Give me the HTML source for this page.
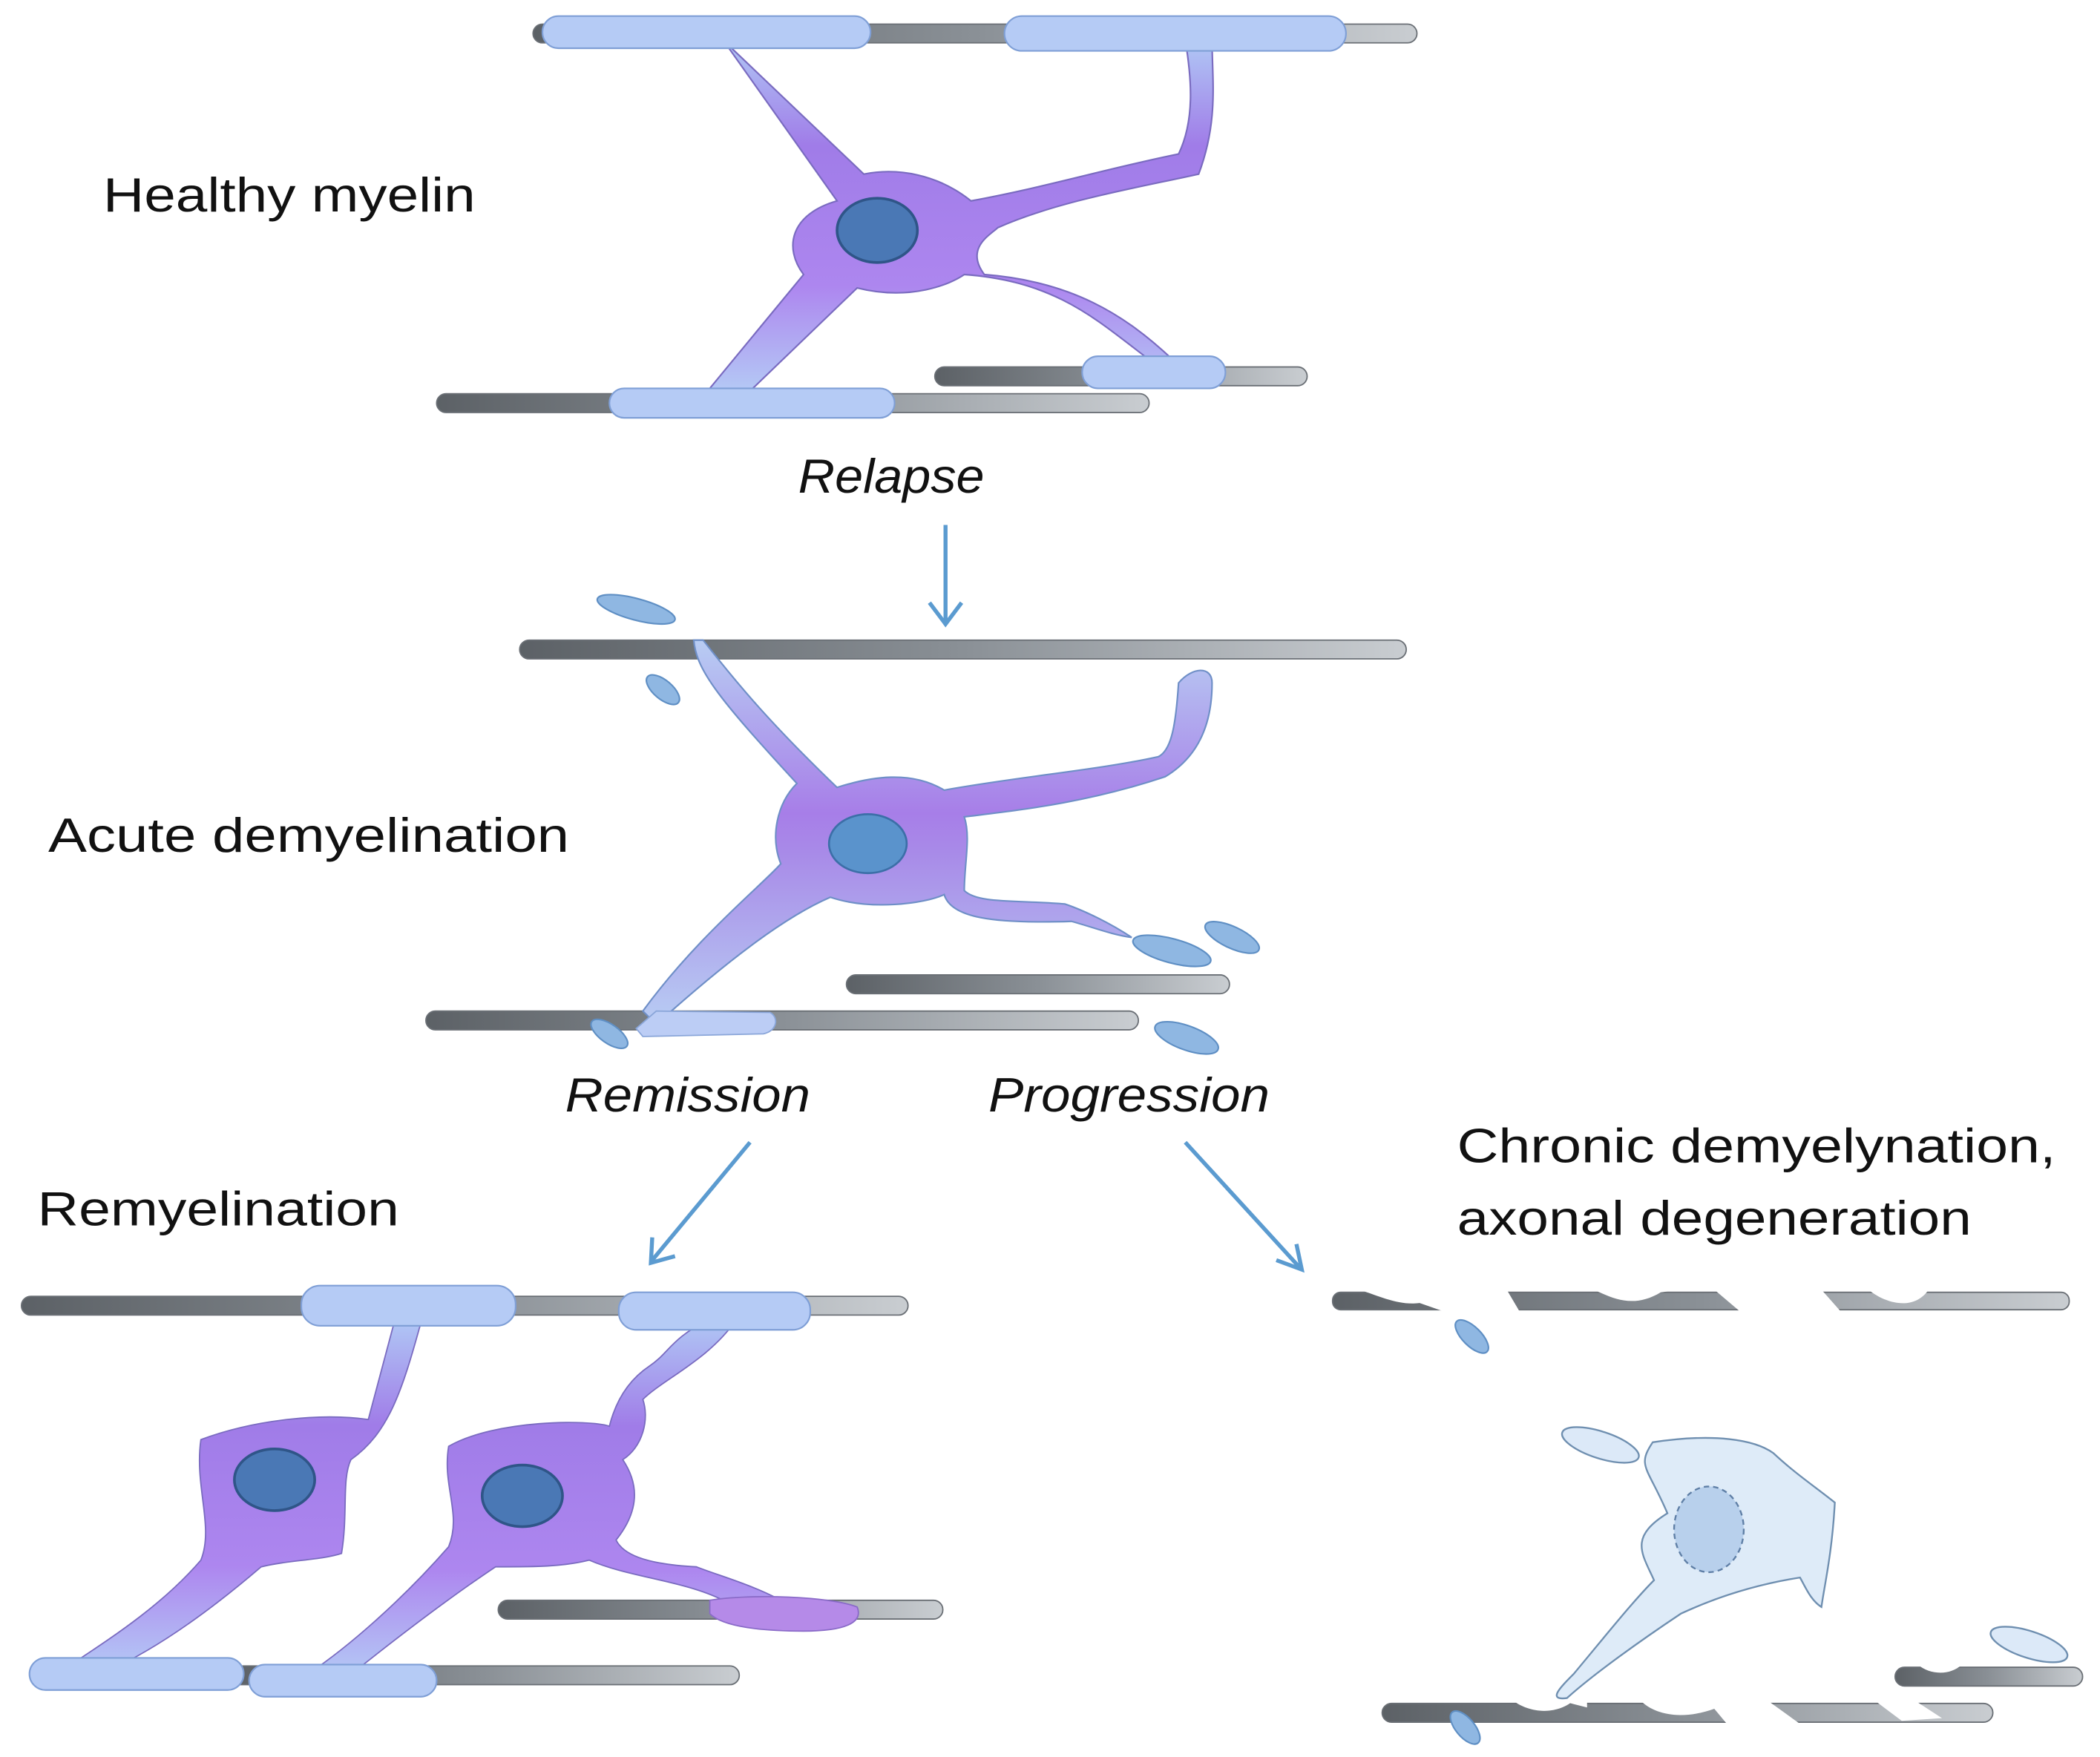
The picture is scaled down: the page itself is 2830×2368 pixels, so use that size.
<!DOCTYPE html>
<html><head><meta charset="utf-8"><style>
html,body{margin:0;padding:0;background:#fff}
svg{display:block}
text{font-family:"Liberation Sans",sans-serif;fill:#111}
</style></head><body>
<svg width="2830" height="2368" viewBox="0 0 1568 1312" xmlns="http://www.w3.org/2000/svg">
<defs>
<linearGradient id="ax" x1="0" x2="1" y1="0" y2="0"><stop offset="0" stop-color="#5c6166"/><stop offset="0.5" stop-color="#8a9096"/><stop offset="1" stop-color="#c9cdd1"/></linearGradient>
<linearGradient id="cellT" x1="0" y1="0" x2="0" y2="1"><stop offset="0" stop-color="#b0c8f5"/><stop offset="0.3" stop-color="#a07ce8"/><stop offset="0.7" stop-color="#ad86ef"/><stop offset="1" stop-color="#b4c9f5"/></linearGradient>
<linearGradient id="cellM" x1="0" y1="0" x2="0" y2="1"><stop offset="0" stop-color="#b8cdf3"/><stop offset="0.45" stop-color="#a77ee8"/><stop offset="0.55" stop-color="#a88ae8"/><stop offset="1" stop-color="#b8cdf3"/></linearGradient>
</defs>

<!-- TOP -->
<g stroke="#6a6f75" stroke-width="1">
<rect x="398" y="18" width="660" height="14" rx="7" fill="url(#ax)"/>
<rect x="698" y="274" width="278" height="14" rx="7" fill="url(#ax)"/>
<rect x="326" y="294" width="532" height="14" rx="7" fill="url(#ax)"/>
</g>
<path d="M540 30 L625 150 C590 160 585 185 600 205 L530 290 L560 292 L640 215 C680 225 710 212 720 205 C790 210 820 240 860 270 L875 268 C840 235 800 210 735 205 C720 185 740 175 745 170 C790 150 850 140 895 130 C910 90 905 60 905 30 L885 30 C890 60 892 90 880 115 C830 125 780 140 725 150 C700 130 670 125 645 130 Z" fill="url(#cellT)" stroke="#7a6bc0" stroke-width="1.2"/>
<ellipse cx="655" cy="172" rx="30" ry="24" fill="#4a78b5" stroke="#2f5588" stroke-width="2"/>
<g fill="#b5cbf5" stroke="#7f9fd6" stroke-width="1.2">
<rect x="405" y="12" width="245" height="24" rx="12"/>
<rect x="750" y="12" width="255" height="26" rx="13"/>
<rect x="455" y="290" width="213" height="22" rx="11"/>
<rect x="808" y="266" width="107" height="24" rx="12"/>
</g>
<text x="77" y="158" font-size="36" textLength="278" lengthAdjust="spacingAndGlyphs">Healthy myelin</text>
<text x="596" y="368" font-size="36" font-style="italic" textLength="139" lengthAdjust="spacingAndGlyphs">Relapse</text>
<g stroke="#5b9bd0" stroke-width="3" fill="none"><line x1="706" y1="392" x2="706" y2="465"/><polyline points="694,450 706,466 718,450"/></g>

<!-- MIDDLE -->
<g stroke="#6a6f75" stroke-width="1">
<rect x="388" y="478" width="662" height="14" rx="7" fill="url(#ax)"/>
<rect x="632" y="728" width="286" height="14" rx="7" fill="url(#ax)"/>
<rect x="318" y="755" width="532" height="14" rx="7" fill="url(#ax)"/>
</g>
<path d="M518 478 C520 500 535 520 595 585 C580 600 575 625 583 645 C570 660 520 700 480 755 L490 765 C540 720 585 685 620 670 C650 680 690 675 705 668 C710 685 740 690 800 688 C815 692 830 698 845 700 C830 690 810 680 795 675 C760 672 730 675 720 665 C720 645 725 625 720 610 C760 605 810 600 870 580 C895 565 905 540 905 510 C905 497 890 498 880 510 C878 540 875 560 865 565 C820 575 760 580 705 590 C680 575 650 580 625 588 C575 540 550 510 525 478 Z" fill="url(#cellM)" stroke="#6f8fc7" stroke-width="1.2"/>
<ellipse cx="648" cy="630" rx="29" ry="22" fill="#5a93cc" stroke="#3c6fa8" stroke-width="1.5"/>
<path d="M475 768 L490 755 L575 756 C582 760 580 770 570 772 L480 774 Z" fill="#bccdf5" stroke="#8aa6d9"/>
<g fill="#8fb7e2" stroke="#5f8fc4" stroke-width="1.2">
<ellipse cx="475" cy="455" rx="30" ry="8" transform="rotate(15 475 455)"/>
<ellipse cx="495" cy="515" rx="15" ry="7" transform="rotate(40 495 515)"/>
<ellipse cx="875" cy="710" rx="30" ry="9" transform="rotate(15 875 710)"/>
<ellipse cx="920" cy="700" rx="22" ry="8" transform="rotate(25 920 700)"/>
<ellipse cx="886" cy="775" rx="25" ry="9" transform="rotate(20 886 775)"/>
<ellipse cx="455" cy="772" rx="16" ry="7" transform="rotate(35 455 772)"/>
</g>
<text x="36" y="636" font-size="36" textLength="389" lengthAdjust="spacingAndGlyphs">Acute demyelination</text>
<text x="422" y="830" font-size="36" font-style="italic" textLength="183" lengthAdjust="spacingAndGlyphs">Remission</text>
<text x="738" y="830" font-size="36" font-style="italic" textLength="210" lengthAdjust="spacingAndGlyphs">Progression</text>
<g stroke="#5b9bd0" stroke-width="3" fill="none">
<line x1="560" y1="853" x2="487" y2="941"/><polyline points="487,924 486,943 504,938"/>
<line x1="885" y1="853" x2="970" y2="946"/><polyline points="953,941 972,948 968,929"/>
</g>

<!-- BOTTOM LEFT -->
<text x="28" y="915" font-size="36" textLength="270" lengthAdjust="spacingAndGlyphs">Remyelination</text>
<g stroke="#6a6f75" stroke-width="1">
<rect x="16" y="968" width="662" height="14" rx="7" fill="url(#ax)"/>
<rect x="372" y="1195" width="332" height="14" rx="7" fill="url(#ax)"/>
<rect x="170" y="1244" width="382" height="14" rx="7" fill="url(#ax)"/>
</g>
<path d="M295 985 L275 1060 C240 1055 190 1060 150 1075 C145 1110 160 1140 150 1165 C120 1200 80 1225 50 1245 L80 1248 C120 1230 160 1200 195 1170 C215 1165 240 1165 255 1160 C260 1130 255 1105 262 1090 C290 1070 300 1040 315 985 Z" fill="url(#cellT)" stroke="#7a6bc0"/>
<path d="M530 985 C500 1000 500 1010 485 1020 C470 1030 460 1045 455 1065 C440 1060 370 1060 335 1080 C330 1110 345 1130 335 1155 C300 1195 260 1230 230 1250 L260 1252 C300 1220 340 1190 370 1170 C400 1170 420 1170 440 1165 C470 1178 510 1180 540 1195 L600 1205 C570 1185 540 1178 520 1170 C480 1168 465 1160 460 1150 C480 1125 475 1105 465 1090 C480 1080 485 1060 480 1045 C495 1030 530 1015 550 985 Z" fill="url(#cellT)" stroke="#7a6bc0"/>
<path d="M530 1195 C560 1190 620 1192 640 1200 C645 1212 630 1218 600 1218 C570 1218 540 1215 530 1205 Z" fill="#b58ae8" stroke="#8a6bc8"/>
<ellipse cx="205" cy="1105" rx="30" ry="23" fill="#4a78b5" stroke="#2f5588" stroke-width="2"/>
<ellipse cx="390" cy="1117" rx="30" ry="23" fill="#4a78b5" stroke="#2f5588" stroke-width="2"/>
<g fill="#b5cbf5" stroke="#7f9fd6" stroke-width="1.2">
<rect x="225" y="960" width="160" height="30" rx="14"/>
<rect x="462" y="965" width="143" height="28" rx="13"/>
<rect x="22" y="1238" width="160" height="24" rx="12"/>
<rect x="186" y="1243" width="140" height="24" rx="12"/>
</g>

<!-- BOTTOM RIGHT -->
<text x="1088" y="868" font-size="36" textLength="447" lengthAdjust="spacingAndGlyphs">Chronic demyelynation,</text>
<text x="1088" y="922" font-size="36" textLength="384" lengthAdjust="spacingAndGlyphs">axonal degeneration</text>
<g stroke="#6a6f75" stroke-width="1">
<rect x="995" y="965" width="550" height="13" rx="6" fill="url(#ax)"/>
<rect x="1415" y="1245" width="140" height="14" rx="7" fill="url(#ax)"/>
<rect x="1032" y="1272" width="456" height="14" rx="7" fill="url(#ax)"/>
</g>
<g fill="#fff">
<path d="M1015 963 C1030 968 1045 975 1060 973 L1080 980 L1135 980 L1125 963 Z"/>
<path d="M1190 963 C1205 970 1220 977 1240 965 L1255 963 Z"/>
<path d="M1280 963 L1300 980 L1375 980 L1360 963 Z"/>
<path d="M1395 963 C1410 975 1430 978 1440 963 Z"/>
<path d="M1130 1270 C1140 1278 1160 1282 1175 1270 Z"/>
<path d="M1225 1270 C1235 1280 1255 1285 1280 1276 L1290 1288 L1345 1288 L1320 1270 Z"/>
<path d="M1400 1270 L1420 1285 L1450 1283 L1430 1270 Z"/>
<path d="M1165 1270 L1185 1270 L1185 1275 Z"/>
<path d="M1432 1243 C1440 1250 1455 1252 1465 1243 Z"/>
</g>
<path d="M1245 1130 C1230 1095 1222 1095 1234 1077 C1280 1070 1310 1075 1324 1085 C1340 1100 1355 1110 1370 1122 C1368 1160 1362 1185 1360 1200 C1352 1195 1348 1185 1344 1178 C1300 1185 1270 1198 1255 1205 C1225 1225 1190 1250 1170 1268 C1155 1270 1165 1260 1175 1250 C1200 1220 1220 1195 1235 1180 C1226 1160 1216 1148 1245 1130 Z" fill="#deebf8" stroke="#6f8fb0" stroke-width="1.3"/>
<ellipse cx="1276" cy="1142" rx="26" ry="32" fill="#b8d0ec" stroke="#5f7fa6" stroke-width="1.3" stroke-dasharray="4 3"/>
<g fill="#dce9f8" stroke="#6f8fb0" stroke-width="1.3">
<ellipse cx="1195" cy="1079" rx="30" ry="10" transform="rotate(18 1195 1079)"/>
<ellipse cx="1515" cy="1228" rx="30" ry="10" transform="rotate(18 1515 1228)"/>
</g>
<g fill="#8fb7e2" stroke="#5f8fc4" stroke-width="1.2">
<ellipse cx="1099" cy="998" rx="16" ry="7" transform="rotate(45 1099 998)"/>
<ellipse cx="1094" cy="1290" rx="15" ry="7" transform="rotate(50 1094 1290)"/>
</g>
</svg>
</body></html>
